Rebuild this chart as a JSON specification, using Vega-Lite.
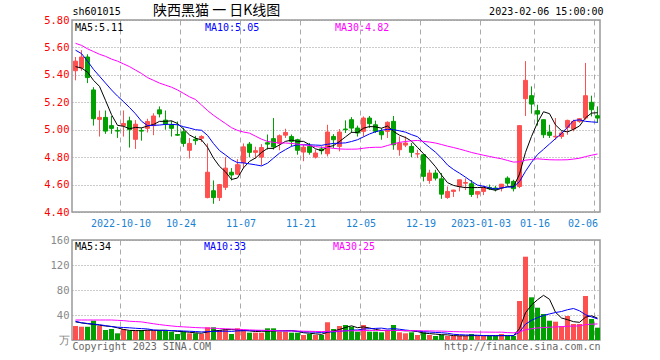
{
"$schema": "https://vega.github.io/schema/vega-lite/v6.json",
"background": "white",
"padding": {"left": 42, "top": 3, "right": 59, "bottom": 9},
"autosize": {"type": "pad"},
"bounds": "flush",
"spacing": 28,
"config": {
  "font": "DejaVu Sans Mono",
  "view": {"stroke": "#999999", "strokeWidth": 1.5},
  "axis": {"labelFont": "DejaVu Sans Mono", "titleFont": "DejaVu Sans Mono", "labelFontSize": 10, "titleFontSize": 10, "titleFontWeight": "normal", "domain": false, "ticks": false, "labelOverlap": false, "labelBound": false, "labelFlush": false, "tickCount": 20},
  "legend": {"labelFont": "DejaVu Sans Mono", "labelFontSize": 10}
},
"resolve": {"scale": {"color": "independent"}, "legend": {"color": "independent"}},
"datasets": {"k": [
{"i":0,"o":5.43,"h":5.53,"l":5.36,"c":5.50,"v":22.4,"MA5":5.46,"MA10":5.58,"MA30":5.63,"VMA5":29,"VMA10":30,"VMA30":32},
{"i":1,"o":5.45,"h":5.58,"l":5.43,"c":5.53,"v":21.3,"MA5":5.45,"MA10":5.555,"MA30":5.615,"VMA5":27.5,"VMA10":27.5,"VMA30":32},
{"i":2,"o":5.53,"h":5.55,"l":5.34,"c":5.38,"v":21.3,"MA5":5.42,"MA10":5.50,"MA30":5.59,"VMA5":26,"VMA10":26.5,"VMA30":32},
{"i":3,"o":5.29,"h":5.31,"l":5.03,"c":5.08,"v":30.9,"MA5":5.36,"MA10":5.44,"MA30":5.57,"VMA5":25,"VMA10":25.5,"VMA30":32},
{"i":4,"o":5.075,"h":5.14,"l":4.95,"c":5.09,"v":22.4,"MA5":5.316,"MA10":5.39,"MA30":5.55,"VMA5":23.66,"VMA10":24.5,"VMA30":32},
{"i":5,"o":5.09,"h":5.14,"l":4.97,"c":4.99,"v":16,"MA5":5.214,"MA10":5.34,"MA30":5.535,"VMA5":22.38,"VMA10":23,"VMA30":32},
{"i":6,"o":5.03,"h":5.10,"l":4.97,"c":5.01,"v":17.6,"MA5":5.11,"MA10":5.29,"MA30":5.515,"VMA5":21.64,"VMA10":21.5,"VMA30":32},
{"i":7,"o":4.995,"h":5.02,"l":4.94,"c":4.99,"v":10.7,"MA5":5.032,"MA10":5.245,"MA30":5.50,"VMA5":19.52,"VMA10":20.5,"VMA30":31.5},
{"i":8,"o":5.03,"h":5.14,"l":4.95,"c":5.045,"v":17.6,"MA5":5.025,"MA10":5.205,"MA30":5.48,"VMA5":16.86,"VMA10":20,"VMA30":31},
{"i":9,"o":5.065,"h":5.095,"l":4.87,"c":5.00,"v":14.9,"MA5":5.007,"MA10":5.162,"MA30":5.46,"VMA5":15.36,"VMA10":19.51,"VMA30":30},
{"i":10,"o":4.93,"h":5.07,"l":4.86,"c":5.04,"v":14.9,"MA5":5.017,"MA10":5.116,"MA30":5.435,"VMA5":15.14,"VMA10":18.76,"VMA30":29.5},
{"i":11,"o":4.995,"h":5.015,"l":4.92,"c":4.99,"v":16,"MA5":5.013,"MA10":5.062,"MA30":5.41,"VMA5":14.82,"VMA10":18.23,"VMA30":29},
{"i":12,"o":5.01,"h":5.08,"l":4.98,"c":5.06,"v":16,"MA5":5.027,"MA10":5.03,"MA30":5.38,"VMA5":15.88,"VMA10":17.7,"VMA30":27.5},
{"i":13,"o":5.03,"h":5.12,"l":4.96,"c":5.10,"v":14.9,"MA5":5.038,"MA10":5.032,"MA30":5.36,"VMA5":15.34,"VMA10":16.1,"VMA30":26},
{"i":14,"o":5.145,"h":5.17,"l":5.09,"c":5.115,"v":16,"MA5":5.061,"MA10":5.034,"MA30":5.34,"VMA5":15.56,"VMA10":15.46,"VMA30":24.7},
{"i":15,"o":5.07,"h":5.14,"l":5.00,"c":5.04,"v":14.9,"MA5":5.061,"MA10":5.039,"MA30":5.325,"VMA5":15.56,"VMA10":15.35,"VMA30":23.5},
{"i":16,"o":5.035,"h":5.065,"l":4.95,"c":5.01,"v":13.3,"MA5":5.065,"MA10":5.039,"MA30":5.31,"VMA5":15.02,"VMA10":14.92,"VMA30":22.5},
{"i":17,"o":4.965,"h":5.06,"l":4.955,"c":4.96,"v":9.6,"MA5":5.045,"MA10":5.036,"MA30":5.29,"VMA5":13.74,"VMA10":14.81,"VMA30":21.6},
{"i":18,"o":4.985,"h":5.015,"l":4.876,"c":4.90,"v":13.3,"MA5":5.005,"MA10":5.022,"MA30":5.265,"VMA5":13.42,"VMA10":14.38,"VMA30":21},
{"i":19,"o":4.85,"h":4.94,"l":4.79,"c":4.90,"v":10.7,"MA5":4.962,"MA10":5.012,"MA30":5.24,"VMA5":12.36,"VMA10":13.96,"VMA30":20.5},
{"i":20,"o":4.93,"h":4.955,"l":4.89,"c":4.92,"v":10.7,"MA5":4.938,"MA10":5.00,"MA30":5.22,"VMA5":11.52,"VMA10":13.54,"VMA30":19.9},
{"i":21,"o":4.937,"h":4.96,"l":4.91,"c":4.95,"v":9.6,"MA5":4.926,"MA10":4.996,"MA30":5.18,"VMA5":10.78,"VMA10":12.9,"VMA30":19.5},
{"i":22,"o":4.505,"h":4.90,"l":4.50,"c":4.69,"v":20.3,"MA5":4.872,"MA10":4.959,"MA30":5.14,"VMA5":12.92,"VMA10":13.33,"VMA30":19.2},
{"i":23,"o":4.555,"h":4.63,"l":4.46,"c":4.505,"v":20.3,"MA5":4.793,"MA10":4.899,"MA30":5.105,"VMA5":14.32,"VMA10":13.87,"VMA30":18.8},
{"i":24,"o":4.505,"h":4.605,"l":4.48,"c":4.60,"v":16,"MA5":4.733,"MA10":4.848,"MA30":5.075,"VMA5":15.38,"VMA10":13.87,"VMA30":18.4},
{"i":25,"o":4.58,"h":4.80,"l":4.56,"c":4.72,"v":17,"MA5":4.693,"MA10":4.816,"MA30":5.045,"VMA5":16.64,"VMA10":14.08,"VMA30":18},
{"i":26,"o":4.69,"h":4.72,"l":4.63,"c":4.67,"v":9.6,"MA5":4.637,"MA10":4.782,"MA30":5.015,"VMA5":16.64,"VMA10":13.71,"VMA30":17.6},
{"i":27,"o":4.676,"h":4.785,"l":4.67,"c":4.745,"v":18.7,"MA5":4.648,"MA10":4.76,"MA30":4.995,"VMA5":16.32,"VMA10":14.62,"VMA30":17.2},
{"i":28,"o":4.76,"h":4.90,"l":4.72,"c":4.875,"v":16,"MA5":4.722,"MA10":4.758,"MA30":4.983,"VMA5":15.46,"VMA10":14.89,"VMA30":16.7},
{"i":29,"o":4.895,"h":4.91,"l":4.80,"c":4.835,"v":11.7,"MA5":4.769,"MA10":4.751,"MA30":4.975,"VMA5":14.6,"VMA10":14.99,"VMA30":16.15},
{"i":30,"o":4.835,"h":4.876,"l":4.79,"c":4.847,"v":11.7,"MA5":4.794,"MA10":4.744,"MA30":4.953,"VMA5":13.54,"VMA10":15.09,"VMA30":15.8},
{"i":31,"o":4.80,"h":4.895,"l":4.74,"c":4.87,"v":11.7,"MA5":4.834,"MA10":4.736,"MA30":4.931,"VMA5":13.96,"VMA10":15.3,"VMA30":15.48},
{"i":32,"o":4.905,"h":4.965,"l":4.855,"c":4.895,"v":18.7,"MA5":4.864,"MA10":4.756,"MA30":4.915,"VMA5":13.96,"VMA10":15.14,"VMA30":15.39},
{"i":33,"o":4.935,"h":5.085,"l":4.855,"c":4.875,"v":18.7,"MA5":4.864,"MA10":4.793,"MA30":4.908,"VMA5":14.5,"VMA10":14.98,"VMA30":14.98},
{"i":34,"o":4.90,"h":4.965,"l":4.85,"c":4.956,"v":13.3,"MA5":4.889,"MA10":4.829,"MA30":4.903,"VMA5":14.82,"VMA10":14.71,"VMA30":14.68},
{"i":35,"o":4.96,"h":5.007,"l":4.94,"c":4.98,"v":13.3,"MA5":4.915,"MA10":4.855,"MA30":4.903,"VMA5":15.14,"VMA10":14.34,"VMA30":14.59},
{"i":36,"o":4.95,"h":4.965,"l":4.878,"c":4.915,"v":11.7,"MA5":4.924,"MA10":4.879,"MA30":4.90,"VMA5":15.14,"VMA10":14.55,"VMA30":14.39},
{"i":37,"o":4.927,"h":4.934,"l":4.818,"c":4.85,"v":11.7,"MA5":4.915,"MA10":4.89,"MA30":4.895,"VMA5":13.74,"VMA10":13.85,"VMA30":14.43},
{"i":38,"o":4.837,"h":4.89,"l":4.77,"c":4.873,"v":8,"MA5":4.915,"MA10":4.89,"MA30":4.89,"VMA5":11.6,"VMA10":13.05,"VMA30":14.11},
{"i":39,"o":4.878,"h":4.903,"l":4.818,"c":4.835,"v":9.6,"MA5":4.891,"MA10":4.89,"MA30":4.884,"VMA5":10.86,"VMA10":12.84,"VMA30":13.93},
{"i":40,"o":4.80,"h":4.855,"l":4.79,"c":4.83,"v":8,"MA5":4.861,"MA10":4.888,"MA30":4.877,"VMA5":9.8,"VMA10":12.47,"VMA30":13.7},
{"i":41,"o":4.86,"h":4.878,"l":4.82,"c":4.847,"v":8,"MA5":4.847,"MA10":4.886,"MA30":4.872,"VMA5":9.06,"VMA10":12.1,"VMA30":13.43},
{"i":42,"o":4.825,"h":5.036,"l":4.805,"c":4.983,"v":28.3,"MA5":4.874,"MA10":4.894,"MA30":4.87,"VMA5":12.38,"VMA10":13.06,"VMA30":13.84},
{"i":43,"o":4.951,"h":4.968,"l":4.866,"c":4.927,"v":17.6,"MA5":4.884,"MA10":4.90,"MA30":4.864,"VMA5":14.3,"VMA10":12.95,"VMA30":13.93},
{"i":44,"o":4.878,"h":5.005,"l":4.842,"c":4.983,"v":22.4,"MA5":4.914,"MA10":4.902,"MA30":4.86,"VMA5":16.86,"VMA10":13.86,"VMA30":14.15},
{"i":45,"o":5.005,"h":5.068,"l":4.976,"c":5.00,"v":24,"MA5":4.948,"MA10":4.904,"MA30":4.858,"VMA5":20.06,"VMA10":14.93,"VMA30":14.45},
{"i":46,"o":5.073,"h":5.092,"l":4.976,"c":5.012,"v":21.3,"MA5":4.981,"MA10":4.914,"MA30":4.858,"VMA5":22.72,"VMA10":15.89,"VMA30":14.72},
{"i":47,"o":5.012,"h":5.03,"l":4.95,"c":4.976,"v":13.3,"MA5":4.98,"MA10":4.927,"MA30":4.859,"VMA5":19.72,"VMA10":16.05,"VMA30":14.84},
{"i":48,"o":4.988,"h":5.097,"l":4.95,"c":5.085,"v":24,"MA5":5.011,"MA10":4.948,"MA30":4.865,"VMA5":21,"VMA10":17.65,"VMA30":15.2},
{"i":49,"o":5.085,"h":5.10,"l":5.012,"c":5.044,"v":13.3,"MA5":5.023,"MA10":4.969,"MA30":4.87,"VMA5":19.18,"VMA10":18.02,"VMA30":15.28},
{"i":50,"o":5.036,"h":5.066,"l":4.976,"c":4.988,"v":13.3,"MA5":5.021,"MA10":4.985,"MA30":4.872,"VMA5":17.04,"VMA10":18.55,"VMA30":15.37},
{"i":51,"o":4.988,"h":5.012,"l":4.927,"c":4.963,"v":12.3,"MA5":5.011,"MA10":4.996,"MA30":4.872,"VMA5":15.24,"VMA10":18.98,"VMA30":15.46},
{"i":52,"o":4.988,"h":5.061,"l":4.94,"c":5.054,"v":14.4,"MA5":5.027,"MA10":5.003,"MA30":4.885,"VMA5":15.46,"VMA10":17.59,"VMA30":15.26},
{"i":53,"o":5.061,"h":5.10,"l":4.854,"c":4.89,"v":24,"MA5":4.988,"MA10":5.00,"MA30":4.897,"VMA5":15.46,"VMA10":18.23,"VMA30":15.39},
{"i":54,"o":4.854,"h":4.951,"l":4.81,"c":4.903,"v":12.3,"MA5":4.96,"MA10":4.992,"MA30":4.908,"VMA5":15.26,"VMA10":17.22,"VMA30":15.26},
{"i":55,"o":4.888,"h":4.951,"l":4.873,"c":4.903,"v":10.7,"MA5":4.943,"MA10":4.982,"MA30":4.914,"VMA5":14.74,"VMA10":15.89,"VMA30":15.05},
{"i":56,"o":4.878,"h":4.903,"l":4.80,"c":4.835,"v":12.3,"MA5":4.917,"MA10":4.964,"MA30":4.919,"VMA5":14.74,"VMA10":14.99,"VMA30":15.14},
{"i":57,"o":4.823,"h":4.854,"l":4.793,"c":4.825,"v":8,"MA5":4.871,"MA10":4.949,"MA30":4.922,"VMA5":13.46,"VMA10":14.46,"VMA30":14.79},
{"i":58,"o":4.818,"h":4.82,"l":4.623,"c":4.66,"v":12.3,"MA5":4.825,"MA10":4.907,"MA30":4.915,"VMA5":11.12,"VMA10":13.29,"VMA30":14.66},
{"i":59,"o":4.63,"h":4.708,"l":4.606,"c":4.684,"v":8,"MA5":4.781,"MA10":4.871,"MA30":4.91,"VMA5":10.26,"VMA10":12.76,"VMA30":14.54},
{"i":60,"o":4.684,"h":4.708,"l":4.63,"c":4.647,"v":6.4,"MA5":4.73,"MA10":4.836,"MA30":4.903,"VMA5":9.4,"VMA10":12.07,"VMA30":14.36},
{"i":61,"o":4.642,"h":4.684,"l":4.496,"c":4.53,"v":8,"MA5":4.669,"MA10":4.793,"MA30":4.892,"VMA5":8.54,"VMA10":11.64,"VMA30":14.24},
{"i":62,"o":4.506,"h":4.586,"l":4.496,"c":4.55,"v":6.4,"MA5":4.614,"MA10":4.743,"MA30":4.88,"VMA5":8.22,"VMA10":10.84,"VMA30":13.83},
{"i":63,"o":4.55,"h":4.562,"l":4.51,"c":4.56,"v":6.4,"MA5":4.594,"MA10":4.71,"MA30":4.87,"VMA5":7.04,"VMA10":9.08,"VMA30":13.42},
{"i":64,"o":4.586,"h":4.635,"l":4.55,"c":4.635,"v":6.4,"MA5":4.584,"MA10":4.683,"MA30":4.859,"VMA5":6.72,"VMA10":8.49,"VMA30":13.19},
{"i":65,"o":4.61,"h":4.645,"l":4.56,"c":4.615,"v":6.4,"MA5":4.578,"MA10":4.654,"MA30":4.847,"VMA5":6.72,"VMA10":8.06,"VMA30":12.96},
{"i":66,"o":4.606,"h":4.633,"l":4.51,"c":4.528,"v":9.6,"MA5":4.578,"MA10":4.623,"MA30":4.834,"VMA5":7.04,"VMA10":7.79,"VMA30":12.89},
{"i":67,"o":4.53,"h":4.55,"l":4.50,"c":4.55,"v":6.4,"MA5":4.578,"MA10":4.596,"MA30":4.824,"VMA5":7.04,"VMA10":7.63,"VMA30":12.71},
{"i":68,"o":4.55,"h":4.589,"l":4.523,"c":4.579,"v":6.4,"MA5":4.581,"MA10":4.588,"MA30":4.814,"VMA5":7.04,"VMA10":7.04,"VMA30":12.66},
{"i":69,"o":4.579,"h":4.60,"l":4.56,"c":4.57,"v":6.4,"MA5":4.568,"MA10":4.576,"MA30":4.805,"VMA5":7.04,"VMA10":6.88,"VMA30":12.55},
{"i":70,"o":4.575,"h":4.59,"l":4.55,"c":4.565,"v":6.4,"MA5":4.558,"MA10":4.568,"MA30":4.796,"VMA5":7.04,"VMA10":6.88,"VMA30":12.5},
{"i":71,"o":4.576,"h":4.603,"l":4.55,"c":4.603,"v":9.6,"MA5":4.573,"MA10":4.576,"MA30":4.788,"VMA5":7.04,"VMA10":7.04,"VMA30":12.55},
{"i":72,"o":4.647,"h":4.66,"l":4.59,"c":4.61,"v":6.4,"MA5":4.585,"MA10":4.582,"MA30":4.776,"VMA5":7.04,"VMA10":7.04,"VMA30":11.82},
{"i":73,"o":4.623,"h":4.635,"l":4.55,"c":4.57,"v":6.4,"MA5":4.584,"MA10":4.583,"MA30":4.764,"VMA5":7.04,"VMA10":7.04,"VMA30":11.45},
{"i":74,"o":4.586,"h":5.03,"l":4.574,"c":5.03,"v":62.4,"MA5":4.676,"MA10":4.622,"MA30":4.766,"VMA5":18.24,"VMA10":12.64,"VMA30":12.78},
{"i":75,"o":5.226,"h":5.50,"l":5.10,"c":5.36,"v":133.3,"MA5":4.835,"MA10":4.697,"MA30":4.778,"VMA5":43.62,"VMA10":25.33,"VMA30":16.42},
{"i":76,"o":5.248,"h":5.316,"l":5.117,"c":5.187,"v":68.3,"MA5":4.951,"MA10":4.762,"MA30":4.783,"VMA5":56,"VMA10":31.52,"VMA30":17.99},
{"i":77,"o":5.139,"h":5.182,"l":5.03,"c":5.114,"v":51.7,"MA5":5.052,"MA10":4.819,"MA30":4.788,"VMA5":64.42,"VMA10":35.73,"VMA30":19.27},
{"i":78,"o":5.073,"h":5.073,"l":4.94,"c":4.963,"v":41.6,"MA5":5.131,"MA10":4.857,"MA30":4.784,"VMA5":71.46,"VMA10":39.25,"VMA30":19.86},
{"i":79,"o":4.983,"h":5.036,"l":4.94,"c":4.959,"v":30.9,"MA5":5.117,"MA10":4.896,"MA30":4.781,"VMA5":65.16,"VMA10":41.7,"VMA30":20.44},
{"i":80,"o":4.948,"h":5.085,"l":4.927,"c":4.952,"v":29.3,"MA5":5.035,"MA10":4.935,"MA30":4.78,"VMA5":44.36,"VMA10":43.99,"VMA30":20.98},
{"i":81,"o":4.951,"h":4.988,"l":4.934,"c":4.976,"v":22.4,"MA5":4.993,"MA10":4.972,"MA30":4.78,"VMA5":35.18,"VMA10":45.59,"VMA30":21.31},
{"i":82,"o":5.017,"h":5.073,"l":4.963,"c":5.068,"v":38.4,"MA5":4.984,"MA10":5.018,"MA30":4.781,"VMA5":32.52,"VMA10":48.47,"VMA30":22.11},
{"i":83,"o":5.005,"h":5.073,"l":4.988,"c":5.061,"v":25.6,"MA5":5.003,"MA10":5.067,"MA30":4.786,"VMA5":29.32,"VMA10":50.39,"VMA30":22.17},
{"i":84,"o":5.061,"h":5.085,"l":5.05,"c":5.08,"v":25.6,"MA5":5.027,"MA10":5.072,"MA30":4.792,"VMA5":28.26,"VMA10":46.71,"VMA30":22.61},
{"i":85,"o":5.085,"h":5.487,"l":5.073,"c":5.248,"v":70.4,"MA5":5.087,"MA10":5.061,"MA30":4.804,"VMA5":36.48,"VMA10":40.42,"VMA30":24.6},
{"i":86,"o":5.20,"h":5.248,"l":5.097,"c":5.146,"v":33.6,"MA5":5.121,"MA10":5.057,"MA30":4.814,"VMA5":38.72,"VMA10":36.95,"VMA30":25.31},
{"i":87,"o":5.102,"h":5.17,"l":5.05,"c":5.085,"v":19.7,"MA5":5.124,"MA10":5.054,"MA30":4.823,"VMA5":34.98,"VMA10":33.75,"VMA30":25.7}
]},
"vconcat": [
{
  "width": 528, "height": 192,
  "title": {"text": "陕西黑猫 一 日K线图", "anchor": "start", "frame": "group", "dx": 81, "dy": 12, "font": "Noto Sans CJK SC", "fontSize": 14, "fontWeight": "normal", "color": "#000000", "offset": 0},
  "data": {"name": "k"},
  "layer": [
    {"mark": {"type": "rule", "strokeWidth": 1},
     "encoding": {
       "x": {"field": "i", "type": "quantitative", "scale": {"domain": [-0.58333, 87.41667], "nice": false, "zero": false, "padding": 0},
             "axis": {"values": [7.5,17.5,27.5,37.5,47.5,57.5,67.5,76.5,86.5], "tickCount": 20,
                      "labelExpr": "datum.value==7.5?'2022-10-10':datum.value==17.5?'10-24':datum.value==27.5?'11-07':datum.value==37.5?'11-21':datum.value==47.5?'12-05':datum.value==57.5?'12-19':datum.value==67.5?'2023-01-03':datum.value==76.5?'01-16':'02-06'",
                      "grid": true, "gridDash": [5,4], "gridColor": "#aaaaaa", "gridWidth": 1, "labelOverlap": false,
                      "labelColor": "#1a82d2", "labelPadding": 6,
                      "labelAlign": {"condition": {"test": "datum.value > 80", "value": "right"}, "value": "center"},
                      "labelOffset": {"condition": {"test": "datum.value > 80", "value": 3}, "value": 0},
                      "title": "2023-02-06 15:00:00", "titleX": 531, "titleY": -201, "titleAlign": "right", "titleBaseline": "middle", "titleColor": "#000000", "titleAngle": 0}},
       "y": {"field": "l", "type": "quantitative", "scale": {"domain": [4.4, 5.8], "nice": false, "zero": false},
             "axis": {"values": [4.4,4.6,4.8,5.0,5.2,5.4,5.6,5.8], "tickCount": 20, "format": ".2f", "grid": true, "gridDash": [1,2], "gridColor": "#999999", "labelOverlap": false,
                      "labelColor": "#ff0000", "labelPadding": 3, "labelFontSize": 10.5,
                      "title": "sh601015", "titleAngle": 0, "titleX": 0, "titleY": -9, "titleAlign": "left", "titleBaseline": "middle", "titleColor": "#000000"}},
       "y2": {"field": "h"},
       "color": {"condition": {"test": "datum.c >= datum.o", "value": "#ff5050"}, "value": "#00a000"}
     }},
    {"mark": {"type": "bar", "width": 4, "strokeWidth": 1},
     "encoding": {
       "x": {"field": "i", "type": "quantitative", "scale": {"domain": [-0.58333, 87.41667], "nice": false, "zero": false, "padding": 0}},
       "y": {"field": "o", "type": "quantitative", "scale": {"domain": [4.4, 5.8], "nice": false, "zero": false}},
       "y2": {"field": "c"},
       "color": {"condition": {"test": "datum.c >= datum.o", "value": "#ff5050"}, "value": "#00a000"},
       "stroke": {"condition": {"test": "datum.c >= datum.o", "value": "#ff5050"}, "value": "#00a000"}
     }},
    {"transform": [{"fold": ["MA5", "MA10", "MA30"], "as": ["s", "val"]}],
     "mark": {"type": "line", "strokeWidth": 1},
     "encoding": {
       "x": {"field": "i", "type": "quantitative", "scale": {"domain": [-0.58333, 87.41667], "nice": false, "zero": false, "padding": 0}},
       "y": {"field": "val", "type": "quantitative", "scale": {"domain": [4.4, 5.8], "nice": false, "zero": false}},
       "color": {"field": "s", "type": "nominal", "scale": {"domain": ["MA5", "MA10", "MA30"], "range": ["#000000", "#0000ff", "#ff00ff"]},
                 "legend": {"orient": "none", "legendX": -7, "legendY": 3, "direction": "horizontal", "columns": 3, "gridAlign": "all", "columnPadding": 65,
                            "symbolSize": 1, "symbolStrokeWidth": 0, "symbolOpacity": 0, "labelOffset": 0, "padding": 0, "title": null,
                            "labelExpr": "datum.label == 'MA5' ? 'MA5:5.11' : datum.label == 'MA10' ? 'MA10:5.05' : 'MA30:4.82'",
                            "encode": {"labels": {"update": {"fill": {"signal": "datum.value == 'MA5' ? '#000000' : datum.value == 'MA10' ? '#0000ff' : '#ff00ff'"}}}}}}
     }}
  ]
},
{
  "width": 528, "height": 100,
  "data": {"name": "k"},
  "layer": [
    {"mark": {"type": "bar", "width": 5},
     "encoding": {
       "x": {"field": "i", "type": "quantitative", "scale": {"domain": [-0.58333, 87.41667], "nice": false, "zero": false, "padding": 0},
             "axis": {"values": [7.5,17.5,27.5,37.5,47.5,57.5,67.5,76.5,86.5], "tickCount": 20, "labels": false, "grid": true, "gridDash": [5,4], "gridColor": "#aaaaaa",
                      "title": "http://finance.sina.com.cn", "titleX": 528, "titleY": 6, "titleAlign": "right", "titleBaseline": "middle", "titleColor": "#666666", "titleAngle": 0}},
       "y": {"field": "v", "type": "quantitative", "scale": {"domain": [0, 160], "nice": false},
             "axis": {"values": [0, 40, 80, 120, 160], "tickCount": 20, "labelExpr": "datum.value == 0 ? '万' : datum.label", "grid": true, "gridDash": [1,2], "gridColor": "#999999", "labelOverlap": false,
                      "labelColor": "#888888", "labelPadding": 3, "labelFontSize": 10.5,
                      "title": "Copyright 2023 SINA.COM", "titleAngle": 0, "titleX": 0, "titleY": 106, "titleAlign": "left", "titleBaseline": "middle", "titleColor": "#666666"}},
       "color": {"condition": {"test": "datum.c >= datum.o", "value": "#ff5050"}, "value": "#00a000"}
     }},
    {"transform": [{"fold": ["VMA5", "VMA10", "VMA30"], "as": ["s", "val"]}],
     "mark": {"type": "line", "strokeWidth": 1},
     "encoding": {
       "x": {"field": "i", "type": "quantitative", "scale": {"domain": [-0.58333, 87.41667], "nice": false, "zero": false, "padding": 0}},
       "y": {"field": "val", "type": "quantitative", "scale": {"domain": [0, 160], "nice": false}},
       "color": {"field": "s", "type": "nominal", "scale": {"domain": ["VMA5", "VMA10", "VMA30"], "range": ["#000000", "#0000ff", "#ff00ff"]},
                 "legend": {"orient": "none", "legendX": -7, "legendY": 2, "direction": "horizontal", "columns": 3, "gridAlign": "all", "columnPadding": 76,
                            "symbolSize": 1, "symbolStrokeWidth": 0, "symbolOpacity": 0, "labelOffset": 0, "padding": 0, "title": null,
                            "labelExpr": "datum.label == 'VMA5' ? 'MA5:34' : datum.label == 'VMA10' ? 'MA10:33' : 'MA30:25'",
                            "encode": {"labels": {"update": {"fill": {"signal": "datum.value == 'VMA5' ? '#000000' : datum.value == 'VMA10' ? '#0000ff' : '#ff00ff'"}}}}}}
     }}
  ]
}
]
}
